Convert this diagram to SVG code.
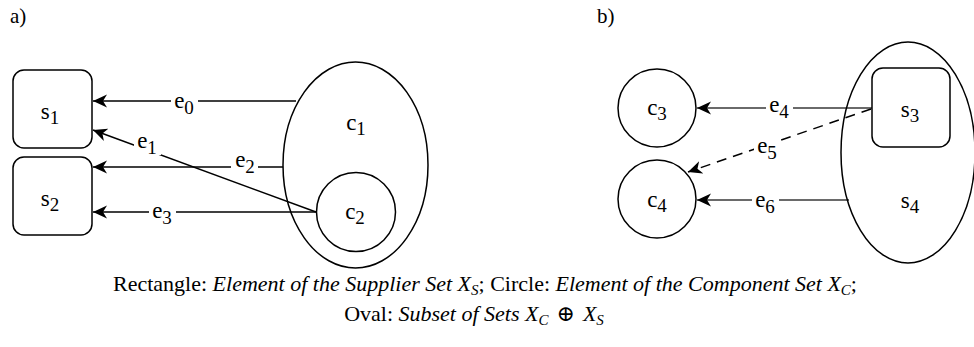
<svg xmlns="http://www.w3.org/2000/svg" width="974" height="347" viewBox="0 0 974 347">
<style>
text{font-family:"Liberation Serif",Tinos,"Times New Roman","DejaVu Serif","Noto Serif",serif;fill:#000}
.nl{font-size:23px;text-anchor:middle}
.el{font-size:23px;text-anchor:middle}
.sub{font-size:19px}
.shape{fill:none;stroke:#000;stroke-width:1.5}
.ln{fill:none;stroke:#000;stroke-width:1.5}
.lg{fill:none;stroke:#6a6a6a;stroke-width:2.2}
.bg{fill:#fff}
.cap{font-size:22px}
.it{font-style:italic}
.cs{font-size:15px;font-style:italic}
</style>
<defs>
<marker id="ah" markerUnits="userSpaceOnUse" markerWidth="16" markerHeight="14" viewBox="-14 -7 16 14" refX="0" refY="0" orient="auto">
<path d="M0,0 L-14,-6.5 L-10,0 L-14,6.5 Z" fill="#000"/>
</marker>
</defs>
<rect width="974" height="347" fill="#fff"/>
<text x="10" y="23" style="font-size:21px">a)</text>
<text x="597" y="23" style="font-size:21px">b)</text>

<g id="connectors">
<line class="ln" x1="296" y1="101" x2="93" y2="101" marker-end="url(#ah)"/>
<line class="ln" x1="316" y1="212" x2="93" y2="130" marker-end="url(#ah)"/>
<line class="ln" x1="283" y1="167" x2="93" y2="167" marker-end="url(#ah)"/>
<line class="ln" x1="317" y1="212" x2="93" y2="212" marker-end="url(#ah)"/>
<line class="lg" x1="872" y1="108" x2="697" y2="108" marker-end="url(#ah)"/>
<line class="ln" x1="871" y1="109" x2="688" y2="172" stroke-dasharray="10 7" stroke-width="1.3" marker-end="url(#ah)"/>
<line class="lg" x1="849" y1="200" x2="697" y2="200" marker-end="url(#ah)"/>
<rect class="bg" x="171" y="94" width="27" height="21"/>
<text class="el" x="184" y="108">e<tspan class="sub" dy="6">0</tspan></text>
<rect class="bg" x="134" y="134" width="27" height="21"/>
<text class="el" x="147" y="148">e<tspan class="sub" dy="6">1</tspan></text>
<rect class="bg" x="231" y="153" width="27" height="21"/>
<text class="el" x="245" y="167">e<tspan class="sub" dy="6">2</tspan></text>
<rect class="bg" x="149" y="204" width="27" height="21"/>
<text class="el" x="162" y="218">e<tspan class="sub" dy="6">3</tspan></text>
<rect class="bg" x="766" y="98" width="27" height="21"/>
<text class="el" x="779" y="112">e<tspan class="sub" dy="6">4</tspan></text>
<rect class="bg" x="754" y="139" width="27" height="21"/>
<text class="el" x="767" y="153">e<tspan class="sub" dy="6">5</tspan></text>
<rect class="bg" x="752" y="193" width="27" height="21"/>
<text class="el" x="765" y="207">e<tspan class="sub" dy="6">6</tspan></text>
</g>

<g id="s1">
<rect class="shape" x="13" y="70" width="79" height="78" rx="11"/>
<text class="nl" x="50" y="119">s<tspan class="sub" dy="5">1</tspan></text>
</g>
<g id="s2">
<rect class="shape" x="13" y="157" width="79" height="78" rx="11"/>
<text class="nl" x="50" y="206">s<tspan class="sub" dy="5">2</tspan></text>
</g>
<g id="c1">
<ellipse class="shape" cx="355.5" cy="165" rx="72.5" ry="103"/>
<text class="nl" x="356" y="130">c<tspan class="sub" dy="5">1</tspan></text>
</g>
<g id="c2">
<circle class="shape" cx="356" cy="212" r="39.5"/>
<text class="nl" x="355" y="219">c<tspan class="sub" dy="5">2</tspan></text>
</g>
<g id="c3">
<circle class="shape" cx="657" cy="108" r="39"/>
<text class="nl" x="657" y="115">c<tspan class="sub" dy="5">3</tspan></text>
</g>
<g id="c4">
<circle class="shape" cx="657" cy="199" r="39"/>
<text class="nl" x="657" y="207">c<tspan class="sub" dy="5">4</tspan></text>
</g>
<g id="s4">
<ellipse class="shape" cx="908" cy="152.5" rx="67" ry="110.5"/>
<text class="nl" x="910" y="208">s<tspan class="sub" dy="5">4</tspan></text>
</g>
<g id="s3">
<rect class="shape" x="872" y="68" width="78" height="79" rx="11" fill="#fff"/>
<text class="nl" x="910" y="117">s<tspan class="sub" dy="5">3</tspan></text>
</g>

<g id="caption">
<text class="cap" x="485" y="291" text-anchor="middle">Rectangle: <tspan class="it">Element of the Supplier Set X</tspan><tspan class="cs" dy="4">S</tspan><tspan dy="-4">; Circle: </tspan><tspan class="it">Element of the Component Set X</tspan><tspan class="cs" dy="4">C</tspan><tspan dy="-4">;</tspan></text>
<text class="cap" x="474" y="321" text-anchor="middle">Oval: <tspan class="it">Subset of Sets X</tspan><tspan class="cs" dy="4">C</tspan><tspan dy="-4" dx="8">⊕</tspan><tspan class="it" dx="8">X</tspan><tspan class="cs" dy="4">S</tspan></text>
</g>
</svg>
